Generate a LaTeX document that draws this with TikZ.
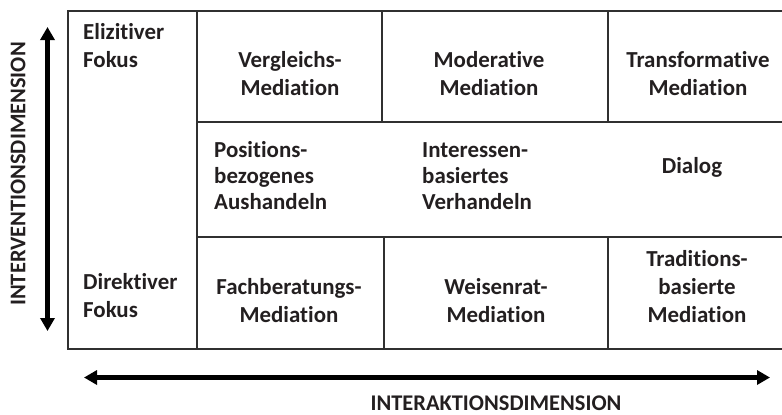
\documentclass[tikz,border=0pt]{standalone}
\usepackage{fontspec}
\setmainfont[Ligatures=NoCommon]{Carlito}
\usetikzlibrary{arrows.meta}
\definecolor{txtcol}{HTML}{231F20}
\definecolor{boxcol}{HTML}{303030}
\begin{document}
\begin{tikzpicture}[x=1bp,y=-1bp,
  gridline/.style={draw=boxcol, line width=1.5bp},
  lbl/.style={font=\bfseries\fontsize{23}{28}\selectfont, text=txtcol, inner sep=0pt},
  midlbl/.style={lbl, font=\bfseries\fontsize{23}{26}\selectfont},
  axis/.style={draw=black, line width=4.5bp, {Triangle[length=13bp,width=14bp]}-{Triangle[length=13bp,width=14bp]}},
  axislbl/.style={font=\bfseries\fontsize{22.5}{24}\selectfont, text=txtcol, inner sep=0pt}]
\useasboundingbox (0,0) rectangle (782,414);
% grid
\draw[gridline] (790,11) -- (68,11) -- (68,349) -- (790,349);
\draw[gridline] (197,11) -- (197,349);
\draw[gridline] (197,122) -- (790,122);
\draw[gridline] (197,237) -- (790,237);
\draw[gridline] (382,11) -- (382,122);
\draw[gridline] (608,11) -- (608,122);
\draw[gridline] (384,237) -- (384,349);
\draw[gridline] (608,237) -- (608,349);
% axes
\coordinate (vt) at (47.5,27);
\coordinate (vb) at (47.5,331);
\coordinate (hl) at (84,377.5);
\coordinate (hr) at (770,377.5);
\draw[axis] (vb) -- (vt);
\draw[axis] (hl) -- (hr);
\node[axislbl, rotate=90, anchor=center] (ylab) at (18,174) {INTERVENTIONSDIMENSION};
\node[axislbl, anchor=base] (xlab) at (496,410) {INTERAKTIONSDIMENSION};
% row labels (anchor base = baseline of last line)
\node[lbl, anchor=base west, align=left] (eli) at (83,67) {Elizitiver\\Fokus};
\node[lbl, anchor=base west, align=left] (dir) at (83,317) {Direktiver\\Fokus};
% top row
\node[lbl, anchor=base, align=center] (verg) at (290,95) {Vergleichs-\\Mediation};
\node[lbl, anchor=base, align=center] (mod) at (489,95) {Moderative\\Mediation};
\node[lbl, anchor=base, align=center] (trans) at (698,95) {Transformative\\Mediation};
% middle row
\node[midlbl, anchor=base west, align=left] (pos) at (214,209) {Positions-\\bezogenes\\Aushandeln};
\node[midlbl, anchor=base west, align=left] (int) at (422,209) {Interessen-\\basiertes\\Verhandeln};
\node[lbl, anchor=base] (dia) at (692,173) {Dialog};
% bottom row
\node[lbl, anchor=base, align=center] (fach) at (289,322) {Fachberatungs-\\Mediation};
\node[lbl, anchor=base, align=center] (weis) at (496,322) {Weisenrat-\\Mediation};
\node[lbl, anchor=base, align=center] (trad) at (697,322) {Traditions-\\basierte\\Mediation};
\end{tikzpicture}
\end{document}
